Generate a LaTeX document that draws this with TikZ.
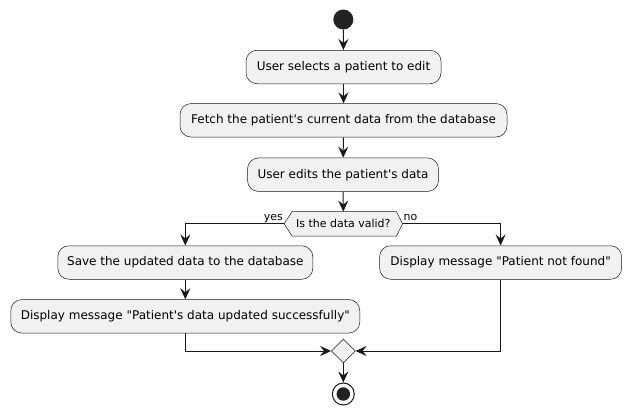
\documentclass[tikz,border=0pt]{standalone}
\usepackage{fontspec}
\setmainfont{DejaVu Sans}
\usetikzlibrary{arrows.meta,shapes.geometric}
\definecolor{ink}{HTML}{181818}
\definecolor{boxfill}{HTML}{F1F1F1}
\definecolor{dot}{HTML}{222222}
\tikzset{
  actbox/.style={draw=ink, line width=0.5pt, fill=boxfill, rounded corners=11pt,
    minimum height=33.5pt, inner sep=0pt, font=\fontsize{12}{14}\selectfont, text=black},
  arr/.style={draw=ink, line width=1pt, -{Stealth[length=11pt,width=10pt,inset=4pt]}},
  line/.style={draw=ink, line width=1pt},
  lbl/.style={font=\fontsize{11}{13}\selectfont, inner sep=0pt, text=black},
}
\begin{document}
\begin{tikzpicture}[x=1pt,y=-1pt]
\useasboundingbox (0,0) rectangle (631,415);
\node[circle, fill=dot, minimum size=20pt, inner sep=0pt] (start) at (343.3,19.5) {};
\node[actbox, minimum width=195pt] (b1) at (343.5,67) {User selects a patient to edit};
\node[actbox, minimum width=327pt] (b2) at (343.5,120.3) {Fetch the patient\textquotesingle s current data from the database};
\node[actbox, minimum width=191pt] (b3) at (343,174.7) {User edits the patient\textquotesingle s data};
\node[lbl, minimum width=118pt, minimum height=24pt] (dec) at (343.3,223.8) {Is the data valid?};
\filldraw[draw=ink, line width=0.5pt, fill=boxfill]
  (dec.west) -- ([xshift=8pt]dec.north west) -- ([xshift=-6pt]dec.north east) -- (dec.east)
  -- ([xshift=-6pt]dec.south east) -- ([xshift=8pt]dec.south west) -- cycle;
\node[lbl] (dect) at (dec.center) {Is the data valid?};
\node[actbox, minimum width=255pt] (b4) at (185.3,262.5) {Save the updated data to the database};
\node[actbox, minimum width=349pt] (b5) at (185.3,316.3) {Display message \textquotedbl Patient\textquotesingle s data updated successfully\textquotedbl};
\node[actbox, minimum width=242pt] (b6) at (500.6,262.5) {Display message \textquotedbl Patient not found\textquotedbl};
\node[diamond, draw=ink, line width=0.5pt, fill=boxfill, minimum width=24pt, minimum height=24pt, inner sep=0pt] (merge) at (343.3,351) {};
\node[circle, draw=ink, line width=1pt, fill=white, minimum size=22pt, inner sep=0pt] (stop) at (343.3,394) {};
\node[circle, fill=dot, minimum size=13.5pt, inner sep=0pt] (stopin) at (stop.center) {};
\node[lbl, anchor=base east] (yes) at ([xshift=-1pt,yshift=3pt]dec.west) {yes};
\node[lbl, anchor=base west] (no) at ([xshift=1pt,yshift=3pt]dec.east) {no};
\draw[arr] (start) -- (b1);
\draw[arr] (b1) -- (b2);
\draw[arr] (b2) -- (b3);
\draw[arr] (b3) -- (dec.north);
\draw[arr] (dec.west) -| (b4.north);
\draw[arr] (dec.east) -| (b6.north);
\draw[arr] (b4) -- (b5);
\draw[arr] (b5.south) |- (merge.west);
\draw[arr] (b6.south) |- (merge.east);
\draw[arr] (merge.south) -- (stop.north);
\end{tikzpicture}
\end{document}
